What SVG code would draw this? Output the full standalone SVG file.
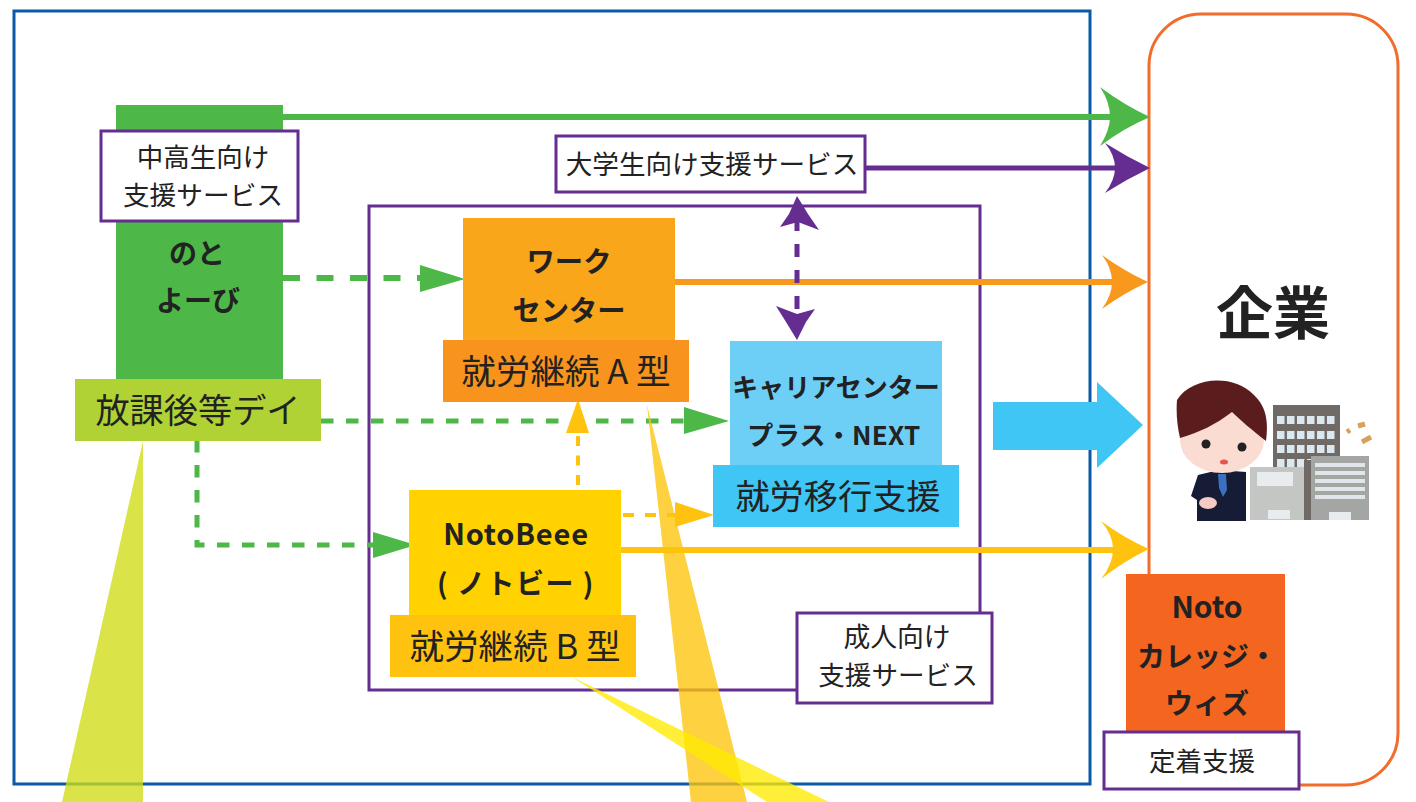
<svg xmlns="http://www.w3.org/2000/svg" width="1416" height="802" viewBox="0 0 1416 802">
<defs><filter id="soft" x="-5%" y="-5%" width="110%" height="110%"><feGaussianBlur stdDeviation="0.7"/></filter></defs>
<style>
text{font-family:"Noto Sans CJK JP","Noto Sans",sans-serif;fill:#222;text-anchor:middle}
.b{font-weight:700}
.lb{fill:#fff;stroke:#662d91;stroke-width:3}
.gd{stroke:#4db848;stroke-width:5;fill:none;stroke-dasharray:12.500 12.500}
.gd1{stroke:#4db848;stroke-width:6;fill:none;stroke-dasharray:17 16.500}
.yd{stroke:#ffc20e;stroke-width:4;fill:none;stroke-dasharray:10 9.500}
.yd2{stroke:#ffc20e;stroke-width:4;fill:none;stroke-dasharray:11 11}
.pd{stroke:#662d91;stroke-width:5;fill:none;stroke-dasharray:13 13}
.w{opacity:.78}
.win{fill:none;stroke:#dce8ef;stroke-width:8;stroke-dasharray:7.500 2.500}
.sl{fill:none;stroke:#dfe5e8;stroke-width:4}
</style>
<rect width="1416" height="802" fill="#fff"/>
<g id="frames">
<rect x="14" y="11" width="1076" height="773" fill="#fff" stroke="#0b5aa6" stroke-width="3"/>
<rect x="1149" y="14" width="249" height="771" rx="52" fill="#fff" stroke="#f26d2b" stroke-width="3"/>
<rect x="369" y="206" width="611" height="484" fill="none" stroke="#662d91" stroke-width="3"/>
</g>
<g id="connectors">
<path d="M283 117H1112" stroke="#4db848" stroke-width="6"/><path d="M1100 87Q1124 105 1150 117Q1124 128 1100 146Q1110 130 1110 117Q1110 102 1100 87Z" fill="#4db848"/>
<path d="M866 168H1116" stroke="#662d91" stroke-width="5"/><path d="M1105 143Q1127 157 1150 168Q1127 179 1105 193Q1115 180 1115 168Q1115 155 1105 143Z" fill="#662d91"/>
<path d="M675 282H1114" stroke="#f8981d" stroke-width="6"/><path d="M1102 255Q1124 271 1148 282Q1124 293 1102 309Q1112 295 1112 282Q1112 268 1102 255Z" fill="#f8981d"/>
<path d="M621 550H1114" stroke="#ffc20e" stroke-width="6"/><path d="M1101 521Q1124 538 1149 549Q1124 561 1101 579Q1113 564 1113 549Q1113 535 1101 521Z" fill="#ffc20e"/>
<path d="M993 402H1097V382L1143 425L1097 468V450H993Z" fill="#3fc6f5"/>
<path d="M283 278H424" class="gd1"/><path d="M420 265L465 279L420 292Z" fill="#4db848"/>
<path d="M321 421H690" class="gd"/><path d="M684 407L729 421L684 434Z" fill="#4db848"/>
<path d="M197 440V545H376" class="gd"/><path d="M373 532L416 545L373 558Z" fill="#4db848"/>
<path d="M578 485V436" class="yd"/><path d="M578 399L589 433H566Z" fill="#ffc20e"/>
<path d="M623 515H680" class="yd2"/><path d="M675 502L714 515L675 527Z" fill="#ffc20e"/>
<path d="M797 218V310" class="pd"/>
<path d="M797 196L808 214L819 230L798 222L780 227L789 214Z" fill="#662d91"/>
<path d="M797 340L786 322L776 306L797 314L815 309L806 322Z" fill="#662d91"/>
</g>
<g id="node-notoyobi">
<rect x="116" y="105" width="167" height="276" fill="#4db848"/>
<text class="b" x="197" y="264" font-size="28">のと</text>
<text class="b" x="198" y="311" font-size="28">よーび</text>
</g>
<g id="node-chukosei">
<rect x="101" y="131" width="197" height="90" class="lb"/>
<text x="203" y="167" font-size="26.5">中高生向け</text>
<text x="203" y="205" font-size="26.7">支援サービス</text>
</g>
<g id="node-hokago">
<rect x="75" y="379" width="246" height="62" fill="#b0d235"/>
<text x="198" y="423" font-size="34.200">放課後等デイ</text>
</g>
<g id="node-daigakusei">
<rect x="556" y="136" width="309" height="56" class="lb"/>
<text x="712" y="174" font-size="26.6">大学生向け支援サービス</text>
</g>
<g id="node-work">
<rect x="463" y="218" width="212" height="124" fill="#faa61a"/>
<text class="b" x="569" y="272" font-size="28.300">ワーク</text>
<text class="b" x="569" y="321" font-size="28.300">センター</text>
</g>
<g id="node-a">
<rect x="443" y="340" width="246" height="62" fill="#f8941d"/>
<text x="566" y="384" font-size="34.600">就労継続 A 型</text>
</g>
<g id="node-career">
<rect x="730" y="341" width="212" height="126" fill="#6dcff6"/>
<text class="b" x="836" y="397" font-size="26">キャリアセンター</text>
<text class="b" x="834" y="445" font-size="26" letter-spacing=".3">プラス・NEXT</text>
</g>
<g id="node-iko">
<rect x="713" y="465" width="246" height="62" fill="#3fc6f5"/>
<text x="838" y="509" font-size="34.200">就労移行支援</text>
</g>
<g id="node-notobeee">
<rect x="409" y="490" width="212" height="130" fill="#ffd200"/>
<text class="b" x="516" y="545" font-size="29" letter-spacing=".8">NotoBeee</text>
<text class="b" x="516" y="594" font-size="28" letter-spacing="1.500">( ノトビー )</text>
</g>
<g id="node-b">
<rect x="390" y="615" width="246" height="62" fill="#ffc20e"/>
<text x="515" y="659" font-size="34.600">就労継続 B 型</text>
</g>
<g id="node-seijin">
<rect x="797" y="613" width="195" height="90" class="lb"/>
<text x="897" y="647" font-size="26.8">成人向け</text>
<text x="898" y="685" font-size="26.6">支援サービス</text>
</g>
<g id="node-kigyo">
<text class="b" x="1273" y="334" font-size="57">企業</text>
<g id="illustration" filter="url(#soft)">
<rect x="1273" y="405" width="67" height="100" fill="#6f6a66"/>
<path d="M1277 420H1337M1277 435H1337M1277 449H1337M1277 463H1337" class="win"/>
<rect x="1250" y="467" width="54" height="53" fill="#c4c6c4"/>
<rect x="1304" y="460" width="8" height="60" fill="#6f6a66"/>
<rect x="1311" y="456" width="58" height="64" fill="#a4a6a4"/>
<path d="M1315 465H1365M1315 473H1365M1315 481H1365M1315 489H1365M1315 497H1365" class="sl"/>
<g fill="#e8ecee"><rect x="1257" y="472" width="36" height="14"/><rect x="1268" y="510" width="22" height="9"/><rect x="1329" y="512" width="22" height="8"/></g>
<path d="M1347 432L1350 430M1358 426L1365 424M1362 442L1371 437" stroke="#d9a05b" stroke-width="5" fill="none"/>
<path d="M1198 475L1219 470L1246 472V521H1197V500L1191 496Z" fill="#161a36"/>
<path d="M1218 474L1226 474L1227 490L1223 497L1219 488Z" fill="#3b6fc0"/>
<ellipse cx="1208" cy="503" rx="9" ry="6" fill="#f5c9c4"/>
<ellipse cx="1222" cy="440" rx="42" ry="33" fill="#fbdcd3"/>
<path d="M1177 400C1190 378 1232 372 1254 395C1268 408 1268 425 1266 441C1252 430 1240 420 1232 412C1215 425 1200 432 1180 438C1177 425 1176 412 1177 400Z" fill="#5a1f1f"/>
<circle cx="1206" cy="444" r="4.500" fill="#222"/><circle cx="1242" cy="447" r="4.500" fill="#222"/>
<ellipse cx="1224" cy="462" rx="4" ry="2.500" fill="#e2574c"/>
</g>
</g>
<g id="node-college">
<rect x="1126" y="574" width="159" height="160" fill="#f4661f"/>
<text class="b" x="1207" y="618" font-size="30">Noto</text>
<text class="b" x="1207" y="667" font-size="28">カレッジ・</text>
<text class="b" x="1207" y="714" font-size="28">ウィズ</text>
</g>
<g id="node-teichaku">
<rect x="1104" y="732" width="195" height="57" class="lb"/>
<text x="1202" y="771" font-size="26.5">定着支援</text>
</g>
<g id="wedges">
<path d="M143 441V802H62Z" fill="#cfdc14" class="w"/>
<path d="M647 405L691 802H747Z" fill="#fdc40a" class="w"/>
<path d="M572 677L767 802H829Z" fill="#ffeb00" class="w"/>
</g>
</svg>
